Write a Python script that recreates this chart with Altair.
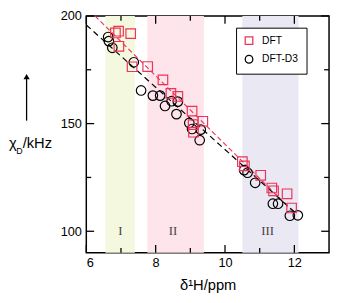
import altair as alt
import pandas as pd

# ---- data ----
dft_x = [6.84, 6.93, 7.28, 6.94, 7.32, 7.77, 8.21, 8.44, 8.64, 9.05, 9.08, 9.09, 9.36,
         10.50, 10.56, 11.03, 11.35, 11.40, 11.79, 11.92]
dft_y = [192.1, 192.9, 191.8, 185.9, 176.4, 176.5, 170.3, 164.0, 162.6, 155.8, 149.5, 146.0, 151.1,
         132.3, 130.4, 126.0, 120.1, 118.8, 117.4, 110.8]

d3_x = [6.63, 6.65, 6.75, 7.37, 7.58, 7.92, 8.13, 8.27, 8.46, 8.64, 8.60, 8.97, 9.05, 9.30, 9.27,
        10.55, 10.65, 10.87, 11.38, 11.53, 11.87, 12.10]
d3_y = [190.2, 188.3, 185.2, 178.5, 165.4, 163.0, 163.0, 158.2, 160.4, 160.2, 154.4, 150.3, 147.5, 147.2, 142.3,
        128.4, 127.2, 122.5, 112.8, 112.8, 107.2, 107.4]

fit_dft_x = [6.25, 12.0]
fit_dft_y = [200.0, 108.6]
fit_d3_x = [6.0, 12.05]
fit_d3_y = [195.8, 108.3]

region_names = ["I", "II", "III"]
region_start = [6.55, 7.76, 10.50]
region_end = [7.40, 9.39, 12.12]
region_label_x = [6.98, 8.50, 11.23]
region_label_y = [100, 100, 100]
region_colors = ["#f3f8de", "#fde5eb", "#e9e8f3"]

x_major = [6, 8, 10, 12]
x_minor = [7, 9, 11]
y_major = [100, 150, 200]
y_minor = [125, 175]

series_names = ["DFT", "DFT-D3"]
series_colors = ["#ee3358", "#000000"]
series_shapes = ["square", "circle"]

W, H = 248, 242
FONT = "Liberation Sans"

xs = alt.Scale(domain=[6, 13], nice=False, zero=False)
ys = alt.Scale(domain=[90, 200], nice=False, zero=False)

XAX = alt.Axis(values=x_major, ticks=False, tickSize=0, domain=False, grid=False,
               labelFont=FONT, labelFontSize=13, labelColor="black", labelPadding=4,
               title="δ¹H/ppm", titleFont=FONT, titleFontSize=15, titleFontWeight="normal",
               titleColor="black", titlePadding=8)
YAX = alt.Axis(values=y_major, ticks=False, tickSize=0, domain=False, grid=False,
               labelFont=FONT, labelFontSize=13, labelColor="black", labelPadding=5,
               title="")

pts = pd.concat([
    pd.DataFrame({"x": d3_x, "y": d3_y, "series": "DFT-D3"}),
    pd.DataFrame({"x": dft_x, "y": dft_y, "series": "DFT"}),
], ignore_index=True)

regions = pd.DataFrame({"name": region_names, "x0": region_start, "x1": region_end,
                        "lx": region_label_x, "ly": region_label_y})

fits = pd.concat([
    pd.DataFrame({"x": fit_dft_x, "y": fit_dft_y, "series": "DFT"}),
    pd.DataFrame({"x": fit_d3_x, "y": fit_d3_y, "series": "DFT-D3"}),
], ignore_index=True)

rects = alt.Chart(regions).mark_rect().encode(
    x=alt.X("x0:Q", scale=xs, axis=XAX),
    x2="x1:Q",
    y=alt.value(0),
    y2=alt.value(H),
    fill=alt.Fill("name:N", scale=alt.Scale(domain=region_names, range=region_colors), legend=None),
)

roman = alt.Chart(regions).mark_text(font="Liberation Serif", fontSize=13, color="#444444").encode(
    x=alt.X("lx:Q", scale=xs, axis=XAX),
    y=alt.Y("ly:Q", scale=ys, axis=YAX),
    text="name:N",
)

dft_line = alt.Chart(fits[fits.series == "DFT"]).mark_line(
    strokeDash=[5, 3], strokeWidth=1.2, color=series_colors[0]).encode(
    x=alt.X("x:Q", scale=xs, axis=XAX),
    y=alt.Y("y:Q", scale=ys, axis=YAX),
)
d3_line = alt.Chart(fits[fits.series == "DFT-D3"]).mark_line(
    strokeDash=[6, 4], strokeWidth=1.2, color=series_colors[1]).encode(
    x=alt.X("x:Q", scale=xs, axis=XAX),
    y=alt.Y("y:Q", scale=ys, axis=YAX),
)

legend = alt.Legend(orient="none", legendX=153, legendY=12, title=None,
                    strokeColor="black", fillColor="white", padding=8,
                    labelFont=FONT, labelFontSize=10.5, labelColor="black",
                    symbolSize=60, symbolStrokeWidth=1.3, rowPadding=5, labelOffset=8)

points = alt.Chart(pts).mark_point(filled=False, size=95, strokeWidth=1.2, opacity=1).encode(
    x=alt.X("x:Q", scale=xs, axis=XAX),
    y=alt.Y("y:Q", scale=ys, axis=YAX),
    stroke=alt.Stroke("series:N", scale=alt.Scale(domain=series_names, range=series_colors), legend=legend),
    shape=alt.Shape("series:N", scale=alt.Scale(domain=series_names, range=series_shapes), legend=legend),
)

def xticks(vals, y0, y1):
    return alt.Chart(pd.DataFrame({"v": vals})).mark_rule(color="black", strokeWidth=1.3).encode(
        x=alt.X("v:Q", scale=xs, axis=XAX), y=alt.value(y0), y2=alt.value(y1))

def yticks(vals, x0, x1):
    return alt.Chart(pd.DataFrame({"v": vals})).mark_rule(color="black", strokeWidth=1.3).encode(
        y=alt.Y("v:Q", scale=ys, axis=YAX), x=alt.value(x0), x2=alt.value(x1))

ticks = [
    xticks(x_major, H, H - 8), xticks(x_minor, H, H - 5),
    xticks(x_major, 0, 8), xticks(x_minor, 0, 5),
    yticks(y_major, 0, 8), yticks(y_minor, 0, 5),
    yticks(y_major, W, W - 8), yticks(y_minor, W, W - 5),
]

one = pd.DataFrame({"t": ["χ"]})
chi = alt.Chart(pd.DataFrame({"t": ["χ"]})).mark_text(
    font=FONT, fontSize=15, align="left", baseline="alphabetic", color="black").encode(
    x=alt.value(-79), y=alt.value(135), text="t:N")
sub = alt.Chart(pd.DataFrame({"t": ["D"]})).mark_text(
    font=FONT, fontSize=9, align="left", baseline="alphabetic", color="black").encode(
    x=alt.value(-71.5), y=alt.value(141), text="t:N")
unit = alt.Chart(pd.DataFrame({"t": ["/kHz"]})).mark_text(
    font=FONT, fontSize=15, align="left", baseline="alphabetic", color="black").encode(
    x=alt.value(-65), y=alt.value(135), text="t:N")
arrow_line = alt.Chart(one).mark_rule(color="black", strokeWidth=1.3).encode(
    x=alt.value(-61), y=alt.value(64), y2=alt.value(107))
arrow_head = alt.Chart(one).mark_point(shape="triangle-up", filled=True, size=40,
                                       color="black", opacity=1).encode(
    x=alt.value(-61), y=alt.value(62))

chart = alt.layer(
    rects, roman, dft_line, d3_line, points, *ticks, chi, sub, unit, arrow_line, arrow_head
).properties(
    width=W, height=H,
    autosize=alt.AutoSizeParams(type="none"),
    padding={"left": 80, "top": 5, "right": 2, "bottom": 40},
).configure_view(stroke="black", strokeWidth=1.5)

chart.save("out.html", embed_options={"renderer": "svg", "actions": False})
